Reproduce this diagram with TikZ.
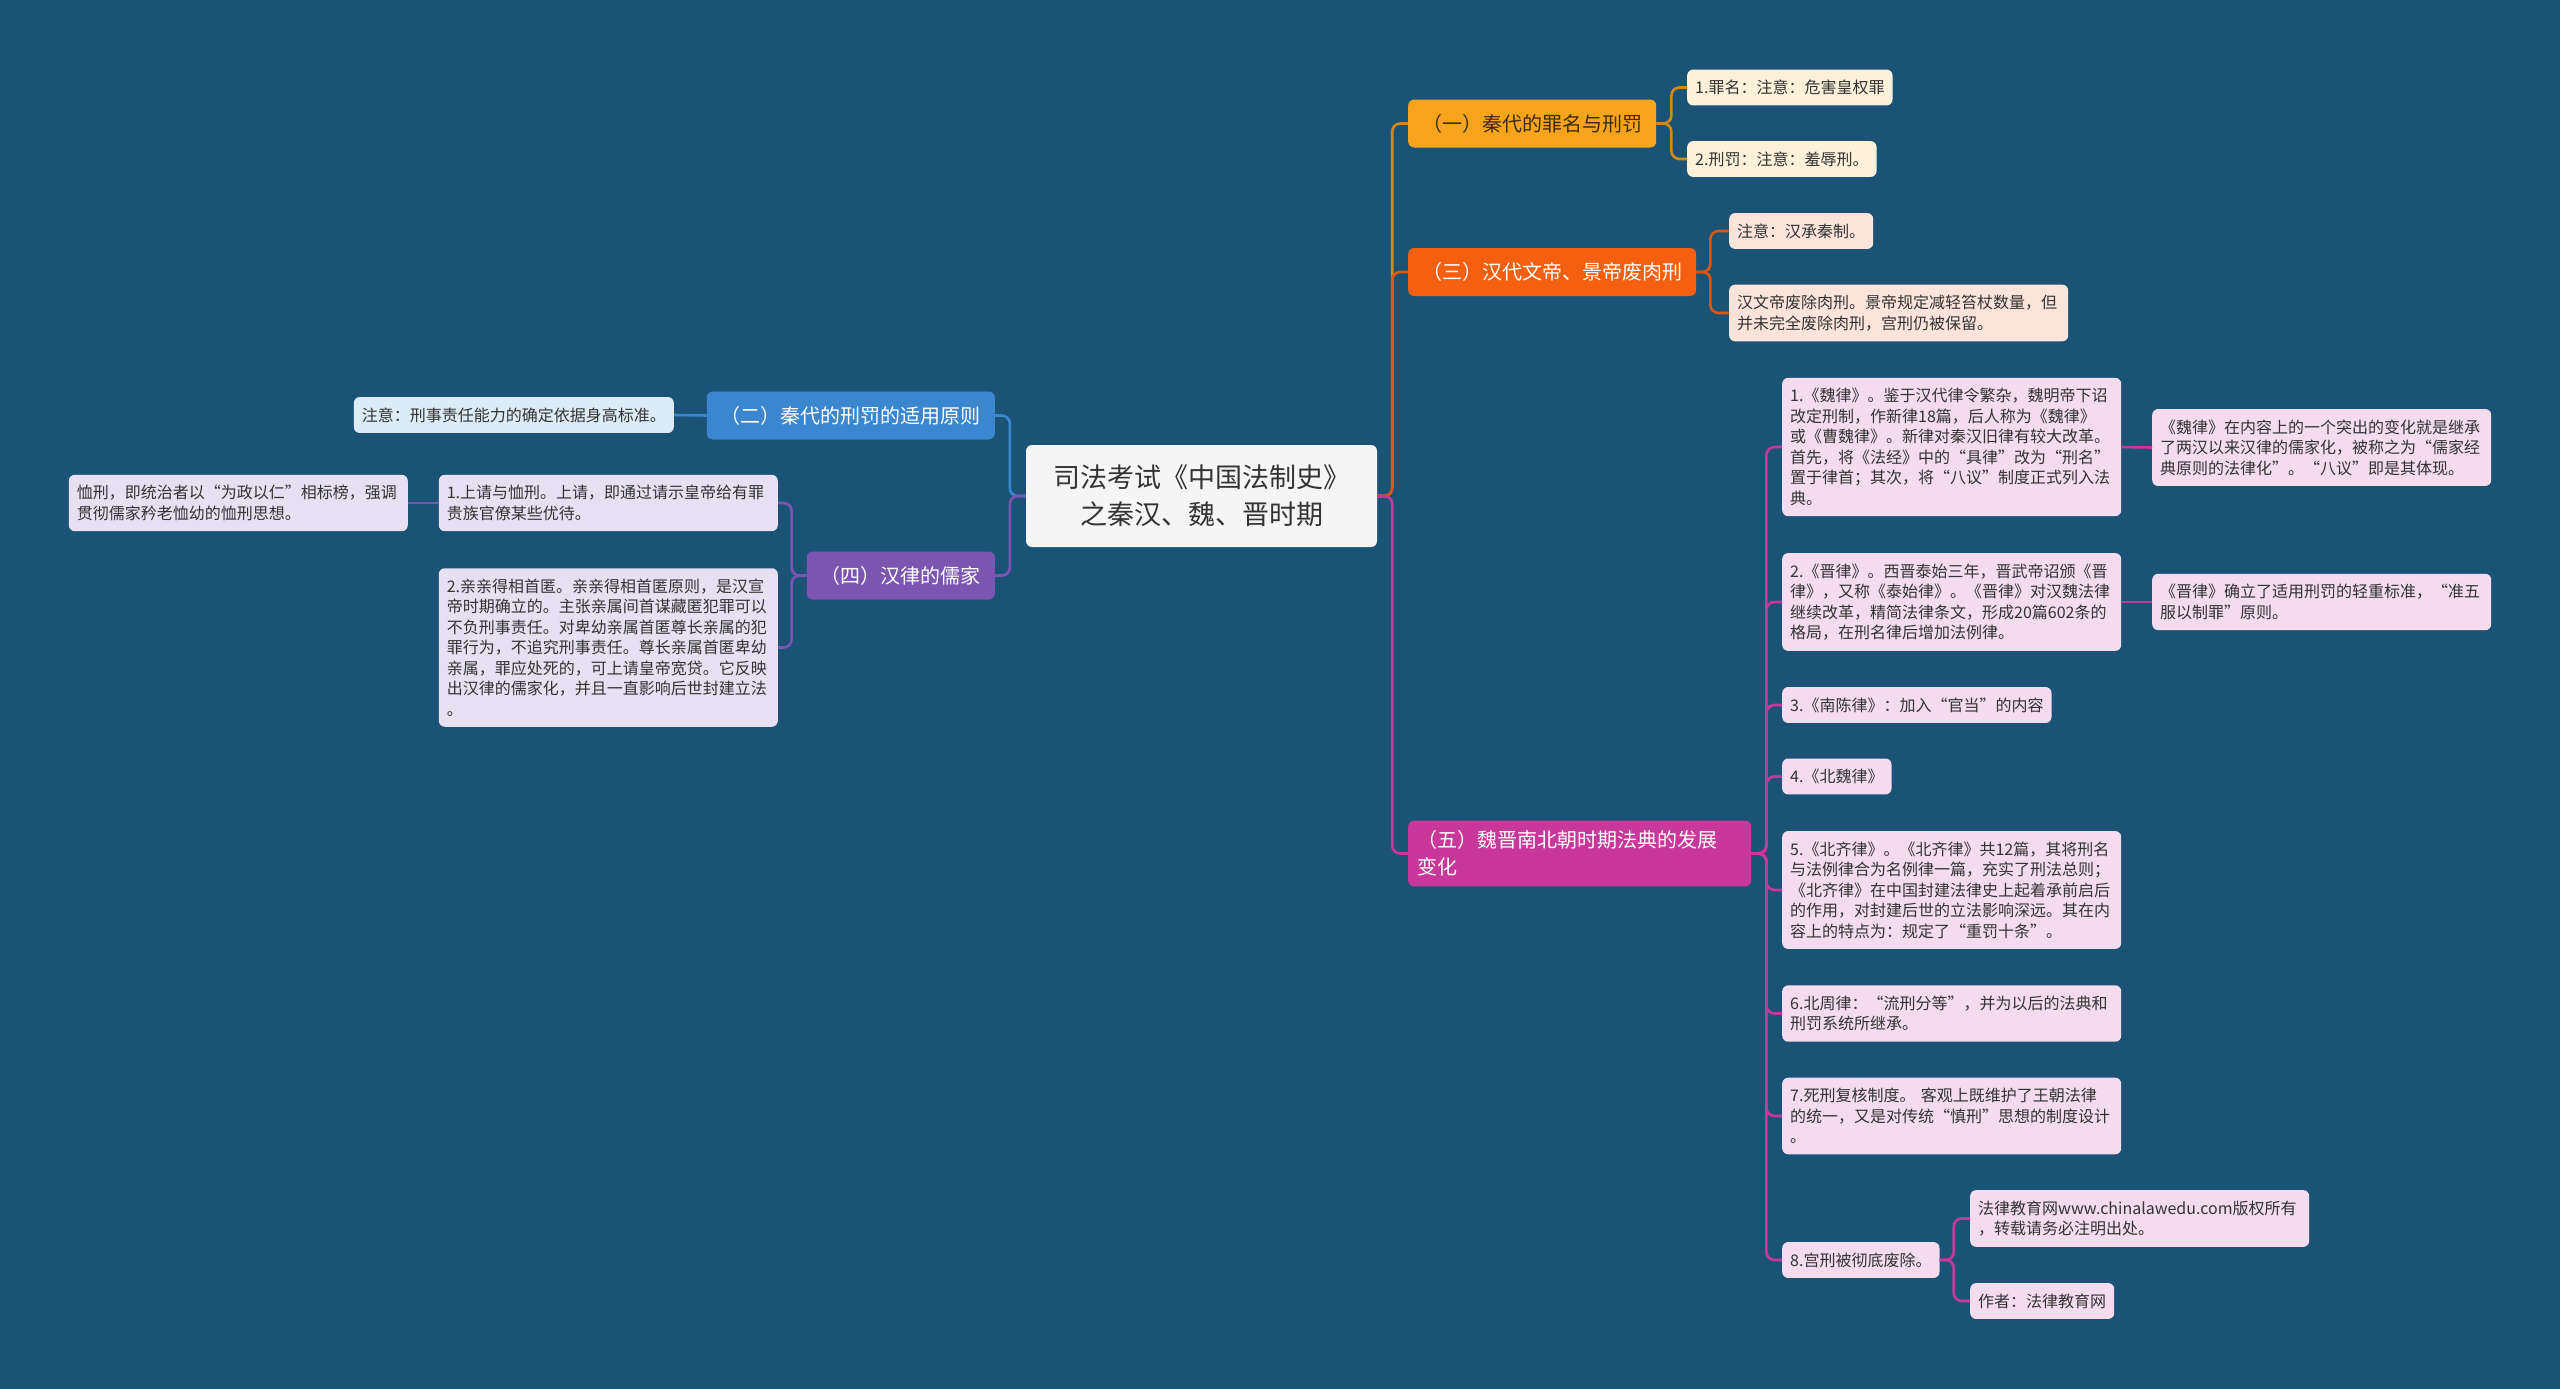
\documentclass[tikz,border=0pt]{standalone}
\usepackage{fontspec}
\setmainfont{Noto Sans CJK SC}
\definecolor{bg}{HTML}{1B5377}
\definecolor{txt}{HTML}{333333}
\definecolor{yiC}{HTML}{F7A41D}
\definecolor{yiL}{HTML}{FDF1DA}
\definecolor{yiT}{HTML}{3F2C0C}
\definecolor{sanC}{HTML}{F4600F}
\definecolor{sanL}{HTML}{FDE4DA}
\definecolor{wuC}{HTML}{C8389A}
\definecolor{wuL}{HTML}{F4DBEE}
\definecolor{erC}{HTML}{3B87CF}
\definecolor{erL}{HTML}{DDEBF7}
\definecolor{siC}{HTML}{7C55B0}
\definecolor{siL}{HTML}{E6E0F2}
\begin{document}
\begin{tikzpicture}[x=1pt, y=-1pt,
    leaf/.style={rounded corners=6pt, inner xsep=8pt, inner ysep=10.5pt, align=left, text=txt,
      font=\fontsize{16}{20.5}\selectfont},
    wide/.style={text width=323pt},
    topic/.style={rounded corners=6pt, inner xsep=14pt, inner ysep=0pt, minimum height=48pt,
      align=left, text=white, font=\fontsize{20}{27}\selectfont},
    link/.style={line width=2.6pt, rounded corners=8pt}]
    \useasboundingbox (0,0) rectangle (2560,1389);
    \fill[bg] (0,0) rectangle (2560,1389);

    % 中心
    \node[fill=white!96!black, rounded corners=6pt, minimum width=351pt, minimum height=102pt,
      align=center, text=txt, font=\fontsize{27}{37}\selectfont] (root) at (1201.5,496)
      {司法考试《中国法制史》\\之秦汉、魏、晋时期};

    % 右侧
    \node[topic, fill=yiC, text=yiT, anchor=west] (yi) at (1408,123.5) {（一）秦代的罪名与刑罚};
    \node[leaf, fill=yiL, anchor=west] (yi1) at (1687,87.5) {1.罪名：注意：危害皇权罪};
    \node[leaf, fill=yiL, anchor=west] (yi2) at (1687,159) {2.刑罚：注意：羞辱刑。};

    \node[topic, fill=sanC, anchor=west] (san) at (1408,272) {（三）汉代文帝、景帝废肉刑};
    \node[leaf, fill=sanL, anchor=west] (san1) at (1729,231) {注意：汉承秦制。};
    \node[leaf, wide, fill=sanL, anchor=west] (san2) at (1729,313)
      {汉文帝废除肉刑。景帝规定减轻笞杖数量，但\\并未完全废除肉刑，宫刑仍被保留。};

    \node[topic, fill=wuC, anchor=west, inner xsep=9pt, inner ysep=10pt, text width=325pt] (wu) at (1408,853.5)
      {（五）魏晋南北朝时期法典的发展\\变化};
    \node[leaf, wide, fill=wuL, anchor=west] (wu1) at (1782,447)
      {1.《魏律》。鉴于汉代律令繁杂，魏明帝下诏\\改定刑制，作新律18篇，后人称为《魏律》\\或《曹魏律》。新律对秦汉旧律有较大改革。\\首先，将《法经》中的“具律”改为“刑名”\\置于律首；其次，将“八议”制度正式列入法\\典。};
    \node[leaf, wide, fill=wuL, anchor=west] (wu1a) at (2152,447.5)
      {《魏律》在内容上的一个突出的变化就是继承\\了两汉以来汉律的儒家化，被称之为“儒家经\\典原则的法律化”。“八议”即是其体现。};
    \node[leaf, wide, fill=wuL, anchor=west] (wu2) at (1782,602)
      {2.《晋律》。西晋泰始三年，晋武帝诏颁《晋\\律》，又称《泰始律》。《晋律》对汉魏法律\\继续改革，精简法律条文，形成20篇602条的\\格局，在刑名律后增加法例律。};
    \node[leaf, wide, fill=wuL, anchor=west] (wu2a) at (2152,602)
      {《晋律》确立了适用刑罚的轻重标准，“准五\\服以制罪”原则。};
    \node[leaf, fill=wuL, anchor=west] (wu3) at (1782,705) {3.《南陈律》：加入“官当”的内容};
    \node[leaf, fill=wuL, anchor=west] (wu4) at (1782,776.5) {4.《北魏律》};
    \node[leaf, wide, fill=wuL, anchor=west] (wu5) at (1782,890)
      {5.《北齐律》。《北齐律》共12篇，其将刑名\\与法例律合为名例律一篇，充实了刑法总则；\\《北齐律》在中国封建法律史上起着承前启后\\的作用，对封建后世的立法影响深远。其在内\\容上的特点为：规定了“重罚十条”。};
    \node[leaf, wide, fill=wuL, anchor=west] (wu6) at (1782,1013.5)
      {6.北周律：“流刑分等”，并为以后的法典和\\刑罚系统所继承。};
    \node[leaf, wide, fill=wuL, anchor=west] (wu7) at (1782,1116)
      {7.死刑复核制度。 客观上既维护了王朝法律\\的统一，又是对传统“慎刑”思想的制度设计\\。};
    \node[leaf, fill=wuL, anchor=west] (wu8) at (1782,1260) {8.宫刑被彻底废除。};
    \node[leaf, wide, fill=wuL, anchor=west] (wu8a) at (1970,1218.5)
      {法律教育网www.chinalawedu.com版权所有\\，转载请务必注明出处。};
    \node[leaf, fill=wuL, anchor=west] (wu8b) at (1970,1301) {作者：法律教育网};

    % 左侧
    \node[topic, fill=erC, anchor=east] (er) at (995,415.5) {（二）秦代的刑罚的适用原则};
    \node[leaf, fill=erL, anchor=east] (er1) at (674,415) {注意：刑事责任能力的确定依据身高标准。};
    \node[topic, fill=siC, anchor=east] (si) at (995,575.5) {（四）汉律的儒家};
    \node[leaf, wide, fill=siL, anchor=east] (si1) at (778,503)
      {1.上请与恤刑。上请，即通过请示皇帝给有罪\\贵族官僚某些优待。};
    \node[leaf, wide, fill=siL, anchor=east] (si1a) at (408,503)
      {恤刑，即统治者以“为政以仁”相标榜，强调\\贯彻儒家矜老恤幼的恤刑思想。};
    \node[leaf, wide, fill=siL, anchor=east] (si2) at (778,647.5)
      {2.亲亲得相首匿。亲亲得相首匿原则，是汉宣\\帝时期确立的。主张亲属间首谋藏匿犯罪可以\\不负刑事责任。对卑幼亲属首匿尊长亲属的犯\\罪行为，不追究刑事责任。尊长亲属首匿卑幼\\亲属，罪应处死的，可上请皇帝宽贷。它反映\\出汉律的儒家化，并且一直影响后世封建立法\\。};

    % 连线
    \draw[link, yiC!85!black] (root.east) -- ++(15,0) |- (yi.west);
    \draw[link, sanC!90!black] (root.east) -- ++(15,0) |- (san.west);
    \draw[link, wuC] (root.east) -- ++(15,0) |- (wu.west);
    \draw[link, erC] (root.west) -- ++(-16,0) |- (er.east);
    \draw[link, siC] (root.west) -- ++(-16,0) |- (si.east);
    \foreach \c in {yi1,yi2} \draw[link, yiC!85!black] (yi.east) -- ++(15,0) |- (\c.west);
    \foreach \c in {san1,san2} \draw[link, sanC!90!black] (san.east) -- ++(14,0) |- (\c.west);
    \foreach \c in {wu1,wu2,wu3,wu4,wu5,wu6,wu7,wu8} \draw[link, wuC] (wu.east) -- ++(15,0) |- (\c.west);
    \draw[link, wuC] (wu1.east) -- (wu1a.west);
    \draw[link, wuC] (wu2.east) -- (wu2a.west);
    \foreach \c in {wu8a,wu8b} \draw[link, wuC] (wu8.east) -- ++(14,0) |- (\c.west);
    \draw[link, erC] (er.west) -- (er1.east);
    \foreach \c in {si1,si2} \draw[link, siC] (si.west) -- ++(-15,0) |- (\c.east);
    \draw[link, siC] (si1.west) -- (si1a.east);
\end{tikzpicture}
\end{document}
